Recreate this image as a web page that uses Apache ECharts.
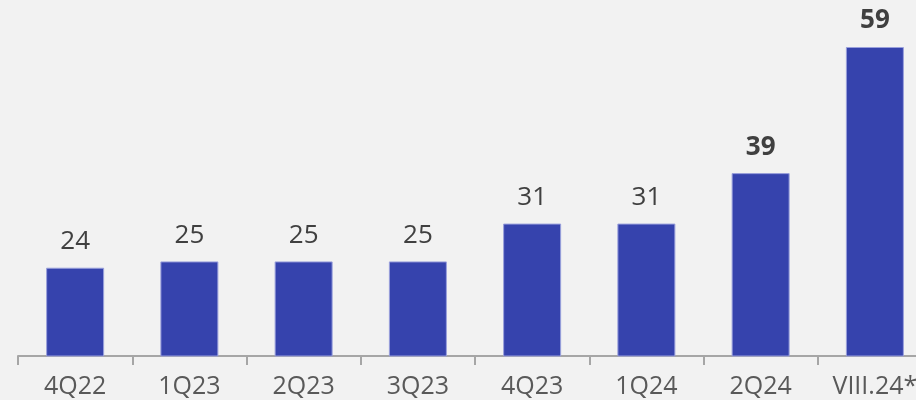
<!DOCTYPE html>
<html><head><meta charset="utf-8">
<script src="https://cdn.jsdelivr.net/npm/echarts@6/dist/echarts.min.js"></script>
<style>html,body{margin:0;padding:0;background:#f2f2f2;overflow:hidden}#c{width:932px;height:400px}</style>
</head><body><div id="c"></div>
<script>
const categories = ['4Q22','1Q23','2Q23','3Q23','4Q23','1Q24','2Q24','VIII.24*'];
const values = [24,25,25,25,31,31,39,59];
const boldFrom = 6;

const chart = echarts.init(document.getElementById('c'), null, {renderer:'canvas'});
chart.setOption({
  backgroundColor:'#f2f2f2',
  animation:false,
  grid:{left:18, right:0, top:47, bottom:44, containLabel:false},
  xAxis:{
    type:'category', data:categories, boundaryGap:true,
    axisLine:{lineStyle:{color:'#a6a6a6', width:2}},
    axisTick:{show:true, length:9, lineStyle:{color:'#a6a6a6', width:2}},
    axisLabel:{color:'#595959', fontSize:25, fontFamily:'Open Sans', margin:18, interval:0}
  },
  yAxis:{type:'value', min:10, max:59, show:false, splitLine:{show:false}},
  series:[{
    type:'bar', barWidth:58,
    data: values.map((v,i)=>({value:v, label:{fontWeight: i>=boldFrom?'bold':'normal'}})),
    itemStyle:{color:'#3643ad', borderColor:'#9aa0dc', borderWidth:1},
    label:{show:true, position:'top', distance:13, color:'#404040', fontSize:26, fontFamily:'Open Sans'}
  }]
});
</script></body></html>
